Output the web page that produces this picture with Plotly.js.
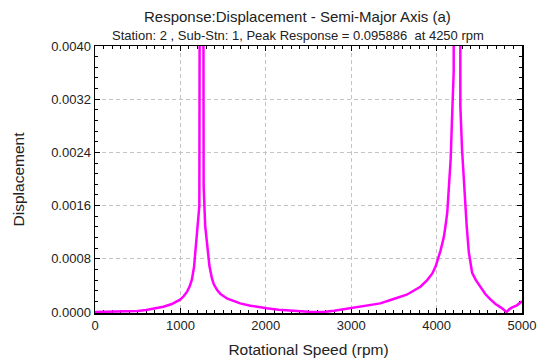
<!DOCTYPE html>
<html>
<head>
<meta charset="utf-8">
<script src="https://cdn.plot.ly/plotly-3.0.1.min.js"></script>
<style>html,body{margin:0;padding:0;background:#fff;}#chart{width:539px;height:361px;}</style>
</head>
<body>
<div id="chart"></div>
<script>
var titleText = "Response:Displacement - Semi-Major Axis (a)";
var subtitleText = "Station: 2 , Sub-Stn: 1, Peak Response = 0.095886 \u00a0at 4250 rpm";
var xTitle = "Rotational Speed (rpm)";
var yTitle = "Displacement";

var speedRpm = [0,100,200,300,400,500,600,700,800,900,960,1000,1040,1080,1110,1135,1160,1185,1205,1222,1250,1272,1290,1310,1340,1370,1390,1430,1470,1550,1620,1700,1820,1900,2010,2150,2290,2400,2500,2600,2700,2800,2900,3000,3100,3200,3340,3460,3560,3650,3730,3810,3890,3950,3990,4020,4045,4065,4085,4105,4125,4145,4165,4183,4200,4250,4278,4298,4318,4335,4352,4377,4416,4460,4513,4570,4630,4690,4750,4790,4820,4850,4885,4940,5000];
var displacement = [0,0.000001,0.000002,0.000004,0.000007,0.000015,0.00003,0.00005,0.00008,0.00012,0.00016,0.00019,0.00024,0.00031,0.00039,0.00049,0.00068,0.00105,0.0013,0.0016,0.025,0.0019,0.0013,0.00105,0.00069,0.0005,0.00042,0.00033,0.00027,0.0002,0.00017,0.00013,0.000095,0.000075,0.000055,0.000035,0.00002,0.00001,0.000004,0.000001,0.000003,0.00002,0.00004,0.00006,0.00008,0.0001,0.00013,0.00018,0.00022,0.00026,0.00032,0.00038,0.00048,0.00058,0.00069,0.0008,0.00092,0.00102,0.00113,0.0013,0.0015,0.0019,0.0023,0.0030,0.0036,0.095886,0.0031,0.00244,0.0020,0.0016,0.0013,0.0009,0.00059,0.00048,0.00037,0.00027,0.00019,0.00012,0.00007,0.00003,0.0,0.00004,0.00007,0.0001,0.00016];

var font = "Liberation Sans, Arial, sans-serif";

var trace = {
  x: speedRpm, y: displacement, type: 'scatter', mode: 'lines',
  line: {color: '#ff00ff', width: 2.5}, hoverinfo: 'none'
};

var axisCommon = {
  showline: true, linecolor: '#000', linewidth: 1.5, mirror: 'ticks',
  ticks: 'inside', ticklen: 5, tickcolor: '#000', tickwidth: 1,
  showgrid: true, gridcolor: '#c4c4c4', griddash: '4px,3px', gridwidth: 1,
  zeroline: false, layer: 'below traces',
  tickfont: {family: font, size: 13, color: '#222'}
};

var layout = {
  width: 539, height: 361,
  margin: {l: 95, r: 17, t: 46, b: 48},
  paper_bgcolor: '#fff', plot_bgcolor: '#fff',
  showlegend: false,
  xaxis: Object.assign({}, axisCommon, {
    range: [0, 5000], dtick: 1000, tick0: 0,
    minor: {dtick: 100, ticks: 'inside', ticklen: 3, tickcolor: '#000', showgrid: false},
    title: {text: xTitle, font: {family: font, size: 15.5, color: '#222'}, standoff: 12}
  }),
  yaxis: Object.assign({}, axisCommon, {
    range: [-0.000015, 0.004], tickvals: [0, 0.0008, 0.0016, 0.0024, 0.0032, 0.004],
    tickformat: '.4f',
    minor: {tickvals: [0.00016,0.00032,0.00048,0.00064,0.00096,0.00112,0.00128,0.00144,0.00176,0.00192,0.00208,0.00224,0.00256,0.00272,0.00288,0.00304,0.00336,0.00352,0.00368,0.00384], ticks: 'inside', ticklen: 3, tickcolor: '#000', showgrid: false},
    title: {text: yTitle, font: {family: font, size: 15.5, color: '#222'}, standoff: 22}
  }),
  annotations: [
    {text: titleText, xref: 'paper', yref: 'paper', x: 0.475, y: 1, yshift: 30,
     xanchor: 'center', yanchor: 'middle', showarrow: false,
     font: {family: font, size: 15, color: '#222'}},
    {text: subtitleText, xref: 'paper', yref: 'paper', x: 0.475, y: 1, yshift: 11,
     xanchor: 'center', yanchor: 'middle', showarrow: false,
     font: {family: font, size: 13, color: '#222'}}
  ]
};

Plotly.newPlot('chart', [trace], layout, {displayModeBar: false, staticPlot: true});
</script>
</body>
</html>
